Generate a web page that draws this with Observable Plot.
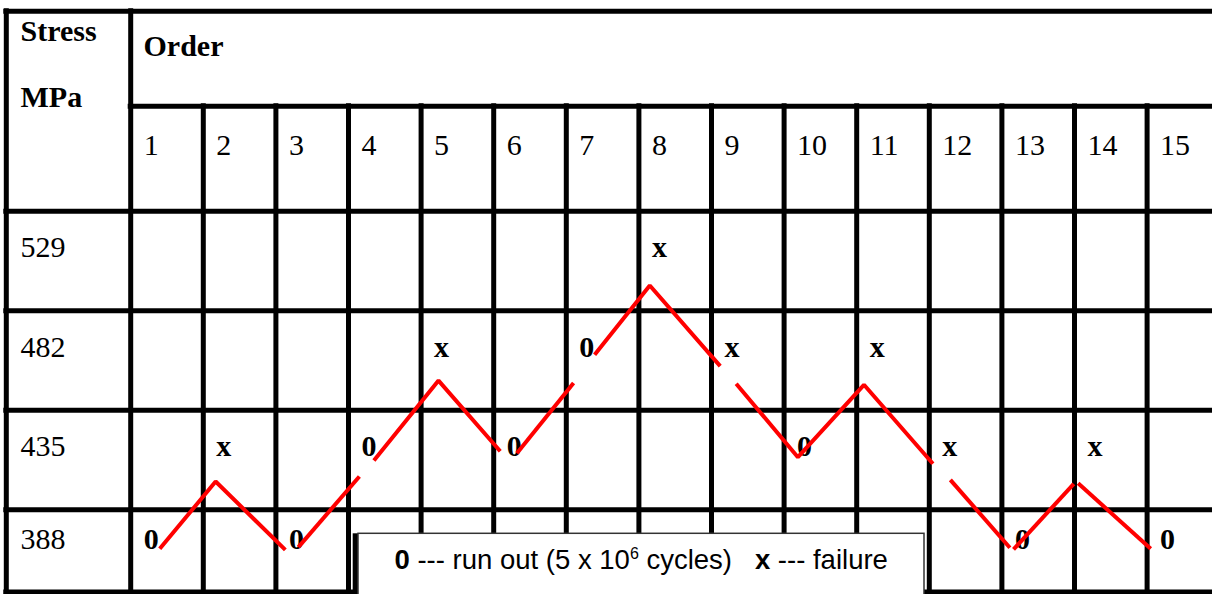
<!DOCTYPE html>
<html>
<head>
<meta charset="utf-8">
<script src="https://cdn.jsdelivr.net/npm/d3@7"></script>
<script src="https://cdn.jsdelivr.net/npm/@observablehq/plot@0.6"></script>
<style>
  html, body { margin: 0; padding: 0; background: #ffffff; }
  #chart svg { display: block; }
</style>
</head>
<body>
<div id="chart"></div>
<script>
// ---------- data ----------
const orders = [1, 2, 3, 4, 5, 6, 7, 8, 9, 10, 11, 12, 13, 14, 15];
const stressLevels = [529, 482, 435, 388];
const testStress = [388, 435, 388, 435, 482, 435, 482, 529, 482, 435, 482, 435, 388, 435, 388];
const testResult = ["0", "x", "0", "0", "x", "0", "0", "x", "x", "0", "x", "x", "0", "x", "0"];

// red up-and-down trace (order units, MPa), drawn in pieces
const pathSegment = ["A","A","A","B","B","C","C","C","D","D","E","E","E","F","F","F","F","G","G","H","H","I","I"];
const pathOrder  = [0.90, 1.67, 2.63, 2.81, 3.65, 3.85, 4.74, 5.59, 5.82, 6.60, 6.89, 7.65, 8.62, 8.84, 9.69, 10.60, 11.55, 11.79, 12.61, 12.66, 13.49, 13.55, 14.55];
const pathStress = [393.0, 424.8, 392.5, 393.8, 427.2, 434.7, 472.5, 439.1, 438.2, 471.3, 484.7, 517.4, 479.3, 471.0, 436.3, 470.5, 433.2, 425.6, 393.5, 392.7, 423.7, 424.0, 393.0];

const rowTitle = ["Stress", "MPa"];
const columnTitle = "Order";
const legendParts = [
  {t: "0", bold: true},
  {t: " --- run out (5 x 10"},
  {t: "6", sup: true},
  {t: " cycles)   "},
  {t: "x", bold: true},
  {t: " --- failure"}
];

// ---------- layout ----------
const W = 1212, H = 594;
const serif = "'Liberation Serif', 'Times New Roman', serif";
const sans = "'Liberation Sans', Arial, sans-serif";
const xOpts = {type: "linear", domain: [1, 15], range: [166.5, 1182.9]};
const yOpts = {type: "linear", domain: [529, 388], range: [260.5, 558.9]};
const X = Plot.scale({x: xOpts});
const Y = Plot.scale({y: yOpts});

const tableLeft = X.invert(5.8);
const tableRight = X.invert(1240);
const tableTop = Y.invert(10.8);
const headerSplit = Y.invert(105.8);
const tableBottom = Y.invert(591.5);
const step = stressLevels[0] - stressLevels[1];
const rowEdges = stressLevels.map(s => s + step / 2);
const colEdges = orders.map(k => k - 0.5).concat([orders[orders.length - 1] + 0.5]);

const hLines = [
  {y: tableTop, x1: tableLeft, x2: tableRight},
  {y: headerSplit, x1: colEdges[0], x2: tableRight},
  ...rowEdges.map(y => ({y, x1: tableLeft, x2: tableRight})),
  {y: tableBottom, x1: tableLeft, x2: tableRight}
];
const vLines = [
  {x: tableLeft, y1: tableTop, y2: tableBottom},
  {x: colEdges[0], y1: tableTop, y2: tableBottom},
  ...colEdges.slice(1).map(x => ({x, y1: headerSplit, y2: tableBottom}))
];

const lowest = d3.min(stressLevels);
const tests = orders.map((o, i) => ({order: o, stress: testStress[i], result: testResult[i]}));
const path = pathOrder.map((o, i) => ({order: o, stress: pathStress[i], seg: pathSegment[i]}));

const common = {fill: "black", textAnchor: "start", lineAnchor: "bottom"};

const chart = Plot.plot({
  width: W,
  height: H,
  margin: 0,
  x: {...xOpts, axis: null},
  y: {...yOpts, axis: null},
  style: {background: "white", overflow: "hidden"},
  marks: [
    // table grid
    Plot.ruleY(hLines, {y: "y", x1: "x1", x2: "x2", stroke: "black", strokeWidth: 5, strokeLinecap: "square"}),
    Plot.ruleX(vLines, {x: "x", y1: "y1", y2: "y2", stroke: "black", strokeWidth: 5, strokeLinecap: "square"}),
    // header texts
    Plot.text([rowTitle[0]], {...common, frameAnchor: "top-left", dx: 20, dy: 40.7, text: d => d,
      fontFamily: serif, fontSize: 30, fontWeight: "bold"}),
    Plot.text([rowTitle[1]], {...common, frameAnchor: "top-left", dx: 20, dy: 106, text: d => d,
      fontFamily: serif, fontSize: 30, fontWeight: "bold"}),
    Plot.text([columnTitle], {...common, x: colEdges[0], frameAnchor: "top", dx: 12.8, dy: 55, text: d => d,
      fontFamily: serif, fontSize: 30, fontWeight: "bold"}),
    Plot.text(orders, {...common, x: d => d, frameAnchor: "top", dx: -23.3, dy: 154, text: d => String(d),
      fontFamily: serif, fontSize: 30}),
    // stress row labels
    Plot.text(stressLevels.filter(s => s !== lowest), {...common, y: d => d, frameAnchor: "left", dx: 20, dy: -3.7,
      text: d => String(d), fontFamily: serif, fontSize: 30}),
    Plot.text(stressLevels.filter(s => s === lowest), {...common, y: d => d, frameAnchor: "left", dx: 20, dy: -10.4,
      text: d => String(d), fontFamily: serif, fontSize: 30}),
    // test results
    Plot.text(tests.filter(d => d.stress !== lowest), {...common, x: "order", y: "stress", text: "result", dx: -23.3, dy: -3.7,
      fontFamily: serif, fontSize: 30, fontWeight: "bold"}),
    Plot.text(tests.filter(d => d.stress === lowest), {...common, x: "order", y: "stress", text: "result", dx: -23.3, dy: -10.4,
      fontFamily: serif, fontSize: 30, fontWeight: "bold"}),
    // red staircase trace
    Plot.line(path, {x: "order", y: "stress", z: "seg", stroke: "#ff0000", strokeWidth: 4, strokeLinejoin: "miter", strokeLinecap: "butt"}),
    // legend box with its dark left shadow edge
    Plot.rect([0], {x1: X.invert(352.7), x2: X.invert(924), y1: Y.invert(533.3), y2: Y.invert(610),
      fill: "black"}),
    Plot.rect([0], {x1: X.invert(358), x2: X.invert(924), y1: Y.invert(533.3), y2: Y.invert(610),
      fill: "white", stroke: "#333333", strokeWidth: 1.5}),
    Plot.text([legendParts.map(p => p.t).join("")], {...common, frameAnchor: "top-left", dx: 394, dy: 568,
      text: d => d, fontFamily: sans, fontSize: 27.5, className: "legend-text"})
  ]
});

// rich text for the legend (bold symbols and superscript exponent)
const legendNode = chart.querySelector(".legend-text text");
if (legendNode) {
  legendNode.textContent = "";
  legendNode.setAttribute("xml:space", "preserve");
  legendNode.style.whiteSpace = "pre";
  let raised = false;
  for (const p of legendParts) {
    const ts = document.createElementNS("http://www.w3.org/2000/svg", "tspan");
    ts.textContent = p.t;
    if (p.bold) ts.setAttribute("font-weight", "bold");
    if (p.sup) { ts.setAttribute("font-size", 16); ts.setAttribute("dy", -10); raised = true; }
    else if (raised) { ts.setAttribute("dy", 10); raised = false; }
    legendNode.appendChild(ts);
  }
}

document.getElementById("chart").appendChild(chart);
</script>
</body>
</html>
